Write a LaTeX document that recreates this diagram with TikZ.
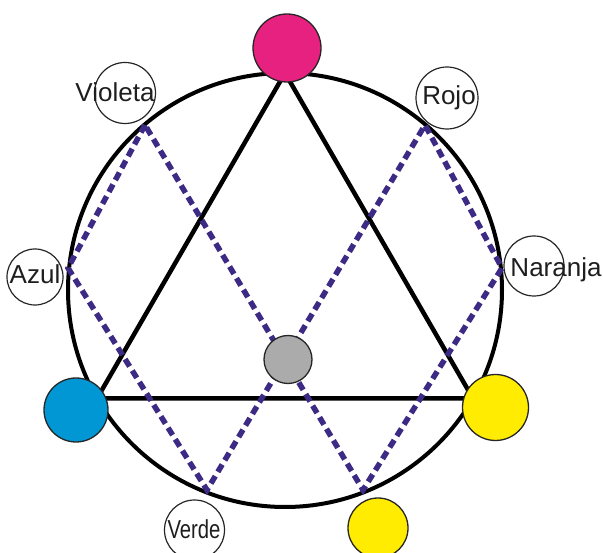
\documentclass[tikz,border=0pt]{standalone}
\usepackage{fontspec}
\setmainfont{Liberation Sans}
\definecolor{cmag}{HTML}{E6217F}
\definecolor{ccyan}{HTML}{0097D4}
\definecolor{cyel}{HTML}{FFEC00}
\definecolor{cgray}{HTML}{ABABAB}
\definecolor{cpurp}{HTML}{3D2A84}
\definecolor{ctext}{HTML}{1E1E1E}
\tikzset{
  dot/.style={circle, draw=black!85, line width=1.3pt, inner sep=0pt},
  wcirc/.style={circle, draw=black!85, line width=1.2pt, inner sep=0pt, minimum size=60pt},
  lbl/.style={font=\fontsize{26}{26}\selectfont, text=ctext, inner sep=0pt, anchor=base},
  rim/.style={line width=4pt, black},
  tri/.style={line width=4.5pt, black, line join=miter},
  zig/.style={line width=5.5pt, cpurp, dash pattern=on 8.5pt off 5pt, line join=miter, miter limit=4},
}
\begin{document}
\begin{tikzpicture}[x=1pt, y=-1pt]
\useasboundingbox (0,0) rectangle (603,553);
% big circle
\coordinate (O) at (285,290);
\draw[rim] (O) circle[radius=217pt];
% triangle vertices
\coordinate (T1) at (285,73);
\coordinate (T2) at (97,398.5);
\coordinate (T3) at (473,398.5);
\draw[tri] (T1) -- (T2) -- (T3) -- cycle;
% zigzag points
\coordinate (pV) at (145,125);
\coordinate (pA) at (68,268);
\coordinate (pG) at (207,490);
\coordinate (pR) at (425,125);
\coordinate (pN) at (502,268);
\coordinate (pB) at (363,490);
\draw[zig] (pV) -- (pA) -- (pG) -- (pR) -- (pN) -- (pB) -- cycle;
% coloured circles
\node[dot, fill=cmag, minimum size=68pt] (mag) at (287,48) {};
\node[dot, fill=ccyan, minimum size=64pt] (cyan) at (76,410) {};
\node[dot, fill=cyel, minimum size=66pt] (yelR) at (495.5,407.5) {};
\node[dot, fill=cyel, minimum size=60pt] (yelB) at (378,528) {};
\node[dot, fill=cgray, minimum size=48pt] (gray) at (288,359.5) {};
% label circles
\node[wcirc, minimum size=61pt] (cViol) at (125,93) {};
\node[lbl] (tViol) at (115,102) {Violeta};
\node[wcirc, minimum size=62pt] (cRojo) at (447,98) {};
\node[lbl] (tRojo) at (449,105) {Rojo};
\node[wcirc, minimum size=56pt] (cAzul) at (35,277) {};
\node[lbl] (tAzul) at (35,284) {Azul};
\node[wcirc, minimum size=60pt] (cNar) at (534,266) {};
\node[lbl] (tNar) at (556,277) {Naranja};
\node[wcirc, minimum size=60pt] (cVerde) at (194.5,530) {};
\node[lbl] (tVerde) at (194,538) {\scalebox{0.78}[1]{Verde}};
\end{tikzpicture}
\end{document}
